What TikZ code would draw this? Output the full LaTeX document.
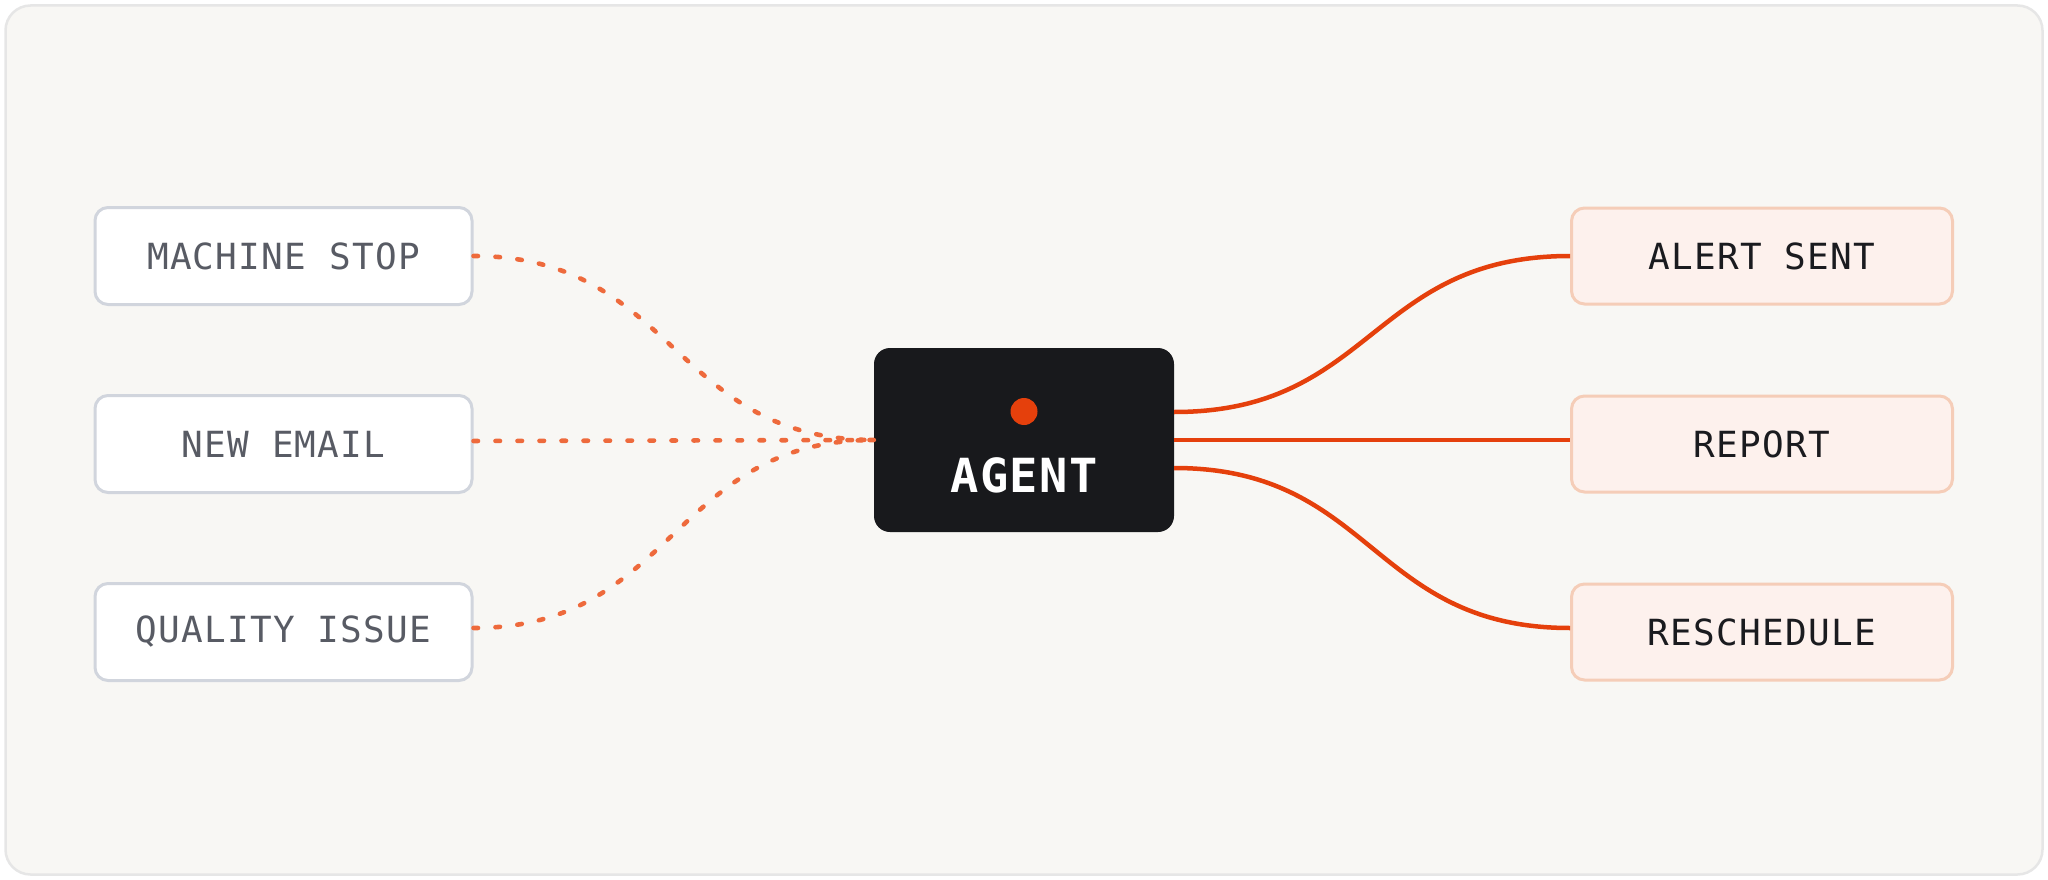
\documentclass[tikz,border=0pt]{standalone}
\usepackage{fontspec}
\setmonofont{DejaVu Sans Mono}
\newfontfamily\labelfont[LetterSpace=3.5]{DejaVu Sans Mono}
\newfontfamily\agentfont[LetterSpace=3]{DejaVu Sans Mono Bold}
\definecolor{panelbg}{HTML}{F8F7F4}
\definecolor{panelline}{HTML}{E6E6E6}
\definecolor{inline}{HTML}{D1D5DD}
\definecolor{intext}{HTML}{585B64}
\definecolor{outfill}{HTML}{FDF1ED}
\definecolor{outline}{HTML}{F5CDB8}
\definecolor{outtext}{HTML}{1A1B1F}
\definecolor{agentbg}{HTML}{18191C}
\definecolor{accent}{HTML}{E5400C}
\definecolor{dotcol}{HTML}{EE6A3C}
\begin{document}
\begin{tikzpicture}[x=1pt,y=-1pt,
  inbox/.style={rectangle, rounded corners=13pt, draw=inline, fill=white, line width=3pt,
    minimum width=377pt, minimum height=97pt, inner sep=0pt, text=intext,
    font=\labelfont\fontsize{36}{40}\selectfont},
  outbox/.style={rectangle, rounded corners=13pt, draw=outline, fill=outfill, line width=3pt,
    minimum width=381pt, minimum height=96pt, inner sep=0pt, text=outtext,
    font=\labelfont\fontsize{36}{40}\selectfont},
  agentbox/.style={rectangle, rounded corners=16pt, fill=agentbg,
    minimum width=300pt, minimum height=184pt, inner sep=0pt},
  trigger/.style={draw=dotcol, line width=4.6pt, line cap=round, dash pattern=on 4.5pt off 17.5pt},
  action/.style={draw=accent, line width=4.5pt}
]
\useasboundingbox (0,0) rectangle (2048,880);
\draw[fill=panelbg, draw=panelline, line width=2.5pt, rounded corners=25pt] (5.5,5.5) rectangle (2042.5,874.5);

\node[inbox] (ms) at (283.5,256) {MACHINE STOP};
\node[inbox] (ne) at (283.5,444) {NEW EMAIL};
\node[inbox] (qi) at (283.5,632) {QUALITY ISSUE};

\node[outbox] (as) at (1762,256) {ALERT SENT};
\node[outbox] (rp) at (1762,444) {REPORT};
\node[outbox] (rs) at (1762,632) {RESCHEDULE};

\node[agentbox] (agent) at (1024,440) {};
\node[circle, fill=accent, minimum size=27pt, inner sep=0pt] (dot) at (1024,411.5) {};
\node[text=white, font=\agentfont\fontsize{47}{50}\selectfont, anchor=base] (agl) at (1024,492.5) {AGENT};

% triggers
\draw[trigger] (ms.east) .. controls +(201,0) and +(-201,0) .. (agent.west);
\draw[trigger] ([yshift=3pt]ne.east) .. controls +(201,0) and +(-201,0) .. (agent.west);
\draw[trigger] ([yshift=4pt]qi.east) .. controls +(201,0) and +(-201,0) .. (agent.west);

% actions
\draw[action] ([yshift=28pt]agent.east) .. controls +(199,0) and +(-199,0) .. (as.west);
\draw[action] (agent.east) -- ([yshift=4pt]rp.west);
\draw[action] ([yshift=-28pt]agent.east) .. controls +(199,0) and +(-199,0) .. ([yshift=4pt]rs.west);
\end{tikzpicture}
\end{document}
